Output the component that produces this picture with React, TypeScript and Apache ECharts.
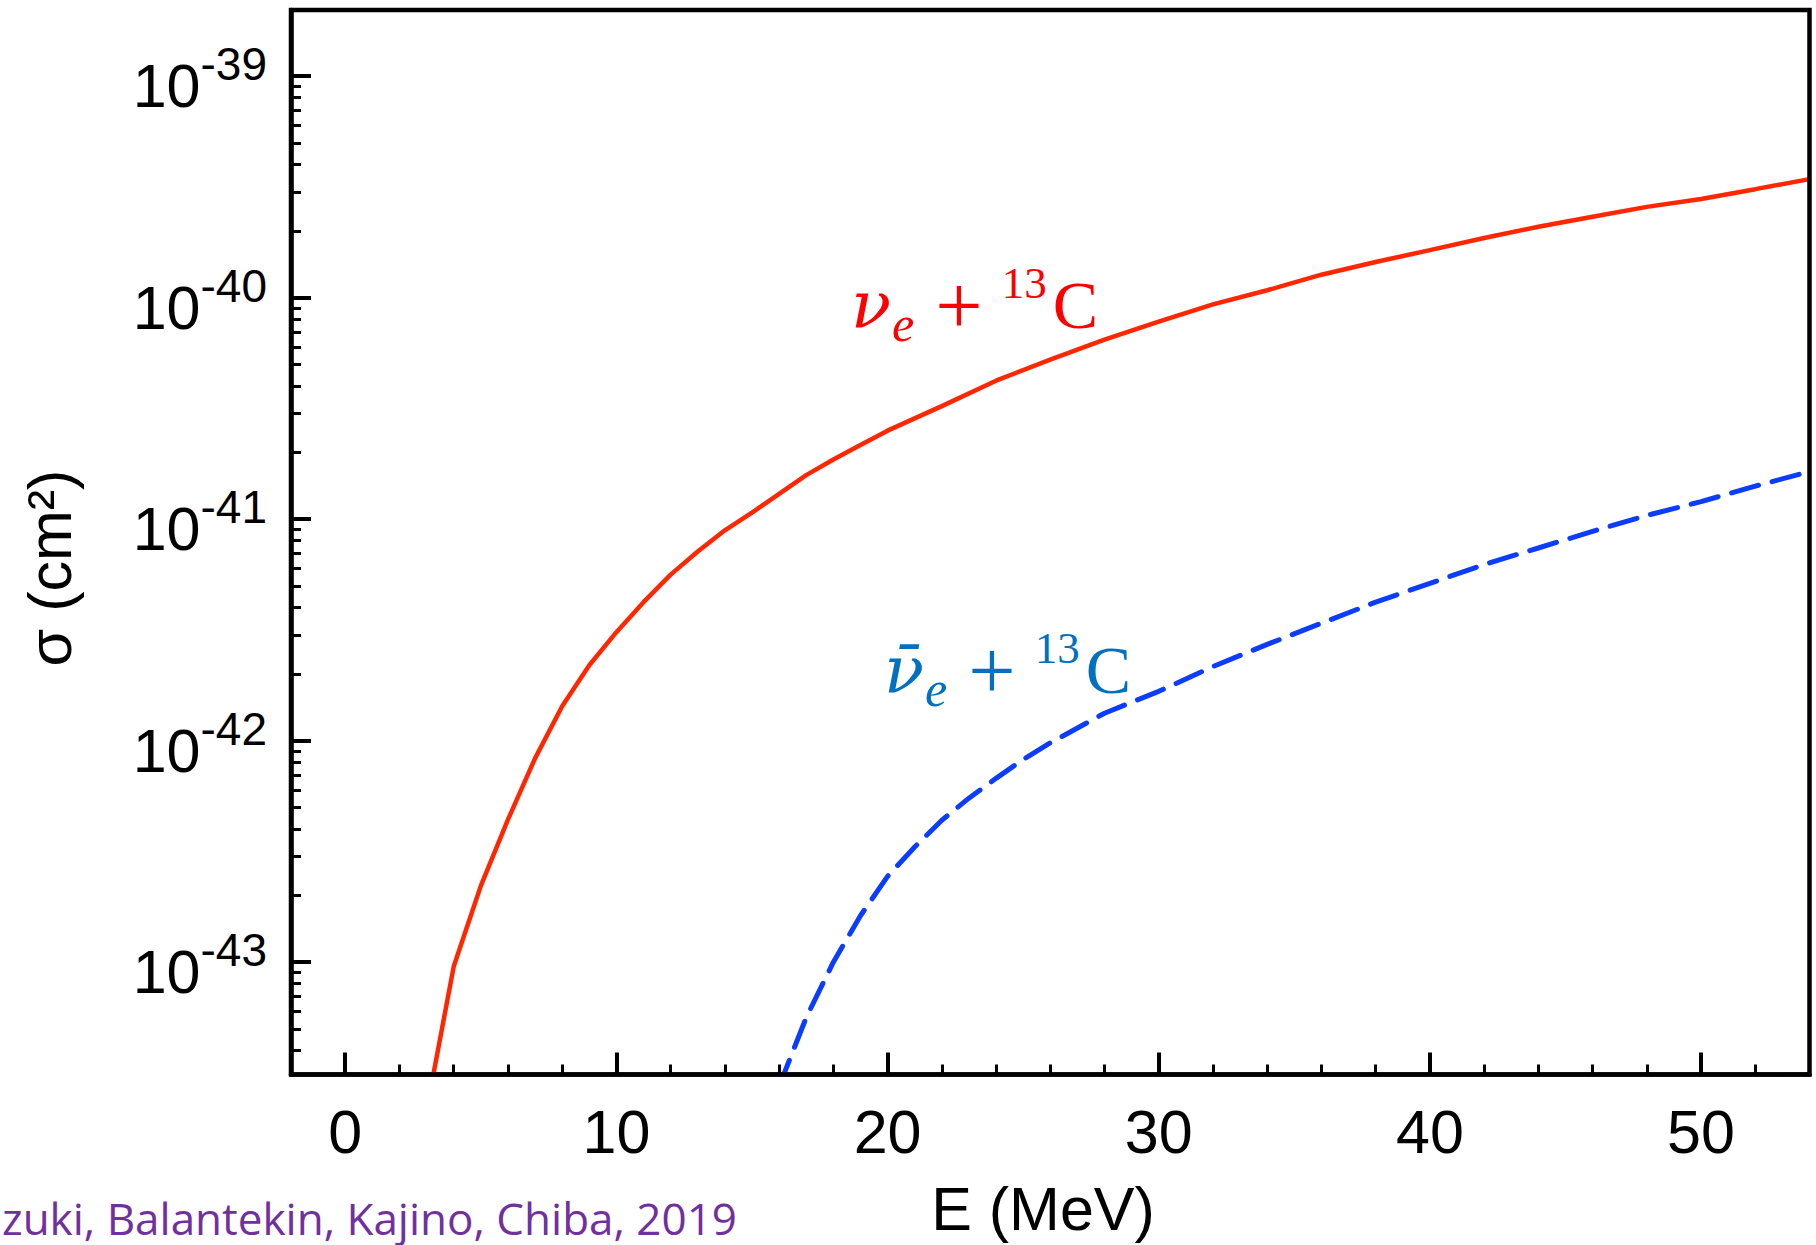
import React, { useEffect, useRef } from "react";
import * as echarts from "echarts";

// ---- data (σ in cm², E in MeV) ----
const energyNuE = [3, 4, 5, 6, 7, 8, 9, 10, 11, 12, 13, 14, 15, 16, 17, 18, 19, 20, 22, 24, 26, 28, 30, 32, 34, 36, 38, 40, 42, 44, 46, 48, 50, 52, 54];
const sigmaNuE = [
  2.14e-44, 9.55e-44, 2.21e-43, 4.4e-43, 8.32e-43, 1.43e-42, 2.19e-42, 3.09e-42, 4.22e-42, 5.62e-42,
  7.14e-42, 8.91e-42, 1.07e-41, 1.3e-41, 1.58e-41, 1.86e-41, 2.16e-41, 2.51e-41, 3.24e-41, 4.22e-41,
  5.25e-41, 6.46e-41, 7.8e-41, 9.33e-41, 1.08e-40, 1.27e-40, 1.45e-40, 1.64e-40, 1.86e-40, 2.09e-40,
  2.32e-40, 2.57e-40, 2.79e-40, 3.09e-40, 3.43e-40,
];
const energyNuBar = [16, 17, 18, 19, 20, 21, 22, 23, 24, 25, 26, 28, 30, 32, 34, 36, 38, 40, 42, 44, 46, 48, 50, 52, 54];
const sigmaNuBar = [
  2.75e-44, 5.62e-44, 1.0e-43, 1.62e-43, 2.44e-43, 3.31e-43, 4.37e-43, 5.5e-43, 6.76e-43, 8.22e-43,
  9.77e-43, 1.33e-42, 1.67e-42, 2.16e-42, 2.72e-42, 3.39e-42, 4.22e-42, 5.13e-42, 6.24e-42, 7.41e-42,
  8.81e-42, 1.04e-41, 1.2e-41, 1.41e-41, 1.64e-41,
];

const xMajorTicks = [0, 10, 20, 30, 40, 50];
const xMinorTicks = [2, 4, 6, 8, 12, 14, 16, 18, 22, 24, 26, 28, 32, 34, 36, 38, 42, 44, 46, 48, 52];
const yMajorTicks = [1e-43, 1e-42, 1e-41, 1e-40, 1e-39];
const yMinorMantissas = [2, 3, 4, 5, 6, 7, 8, 9];
const yMinorDecades = [1e-44, 1e-43, 1e-42, 1e-41, 1e-40];

const X_MIN = -2;
const X_MAX = 54;
const Y_MIN = 3.11e-44;
const Y_MAX = 1.99e-39;
const SIGMA_UNIT = 1e-42; // axis works in units of 1e-42 cm² to keep precision

const TICK_FONT = "'Liberation Sans', Arial, Helvetica, sans-serif";
const MATH_FONT = "'Liberation Serif', 'DejaVu Serif', serif";
const GREEK_FONT = "'DejaVu Serif', 'Liberation Serif', serif";

const toUnit = (v: number) => v / SIGMA_UNIT;

function labelRich(color: string) {
  return {
    nu: { fontSize: 66, fontStyle: "italic", fontFamily: GREEK_FONT, fill: color },
    sub: { fontSize: 50, fontStyle: "italic", fontFamily: MATH_FONT, fill: color, padding: [38, 0, 0, 1] },
    op: { fontSize: 84, fontFamily: MATH_FONT, fill: color, padding: [0, 19, 0, 21] },
    sup: { fontSize: 45, fontFamily: MATH_FONT, fill: color, padding: [0, 6, 44, 0] },
    c: { fontSize: 68, fontFamily: MATH_FONT, fill: color },
  };
}

export default function App() {
  const ref = useRef<HTMLDivElement>(null);

  useEffect(() => {
    document.body.style.margin = "0";
    if (!ref.current) return;
    const chart = echarts.init(ref.current, null, { renderer: "svg" });

    const yMinor: number[] = [];
    yMinorDecades.forEach((d) => yMinorMantissas.forEach((m) => yMinor.push(toUnit(m * d))));

    const gridBox = { left: 291, right: 6.5, top: 10, bottom: 170.5 };

    const option: any = {
      animation: false,
      backgroundColor: "#ffffff",
      grid: [
        { ...gridBox, show: true, borderColor: "#000", borderWidth: 4.5, backgroundColor: "transparent", z: 4 },
        { ...gridBox, show: false },
      ],
      xAxis: [
        {
          type: "value",
          gridIndex: 0,
          min: X_MIN,
          max: X_MAX,
          axisLine: { show: true, onZero: false, lineStyle: { color: "#000", width: 4.5 } },
          axisTick: { show: true, inside: true, length: 22, lineStyle: { color: "#000", width: 4 }, customValues: xMajorTicks },
          axisLabel: { show: true, customValues: xMajorTicks, margin: 27, fontSize: 61, color: "#000", fontFamily: TICK_FONT },
          splitLine: { show: false },
        },
        {
          type: "value",
          gridIndex: 1,
          min: X_MIN,
          max: X_MAX,
          axisLine: { show: false, onZero: false },
          axisTick: { show: true, inside: true, length: 10, lineStyle: { color: "#000", width: 3 }, customValues: xMinorTicks },
          axisLabel: { show: false },
          splitLine: { show: false },
        },
      ],
      yAxis: [
        {
          type: "log",
          logBase: 10,
          gridIndex: 0,
          min: toUnit(Y_MIN),
          max: toUnit(Y_MAX),
          axisLine: { show: true, onZero: false, lineStyle: { color: "#000", width: 4.5 } },
          axisTick: { show: true, inside: true, length: 20, lineStyle: { color: "#000", width: 4 }, customValues: yMajorTicks.map(toUnit) },
          axisLabel: {
            show: true,
            customValues: yMajorTicks.map(toUnit),
            margin: 24,
            color: "#000",
            fontFamily: TICK_FONT,
            formatter: (v: number) => {
              const exp = Math.round(Math.log10(v)) + Math.round(Math.log10(SIGMA_UNIT));
              return `{b|10}{s|${exp}}`;
            },
            rich: {
              b: { fontSize: 61, fontFamily: TICK_FONT, color: "#000", padding: [20, 0, 0, 0] },
              s: { fontSize: 46, fontFamily: TICK_FONT, color: "#000", padding: [0, 0, 24, 0] },
            },
          },
          splitLine: { show: false },
        },
        {
          type: "log",
          logBase: 10,
          gridIndex: 1,
          min: toUnit(Y_MIN),
          max: toUnit(Y_MAX),
          axisLine: { show: false, onZero: false },
          axisTick: { show: true, inside: true, length: 10, lineStyle: { color: "#000", width: 3 }, customValues: yMinor },
          axisLabel: { show: false },
          splitLine: { show: false },
        },
      ],
      series: [
        {
          name: "νe + 13C",
          type: "line",
          xAxisIndex: 0,
          yAxisIndex: 0,
          data: energyNuE.map((e, i) => [e, toUnit(sigmaNuE[i])]),
          showSymbol: false,
          symbol: "none",
          clip: true,
          lineStyle: { color: "#ff2600", width: 4.5 },
          z: 3,
        },
        {
          name: "anti-νe + 13C",
          type: "line",
          xAxisIndex: 0,
          yAxisIndex: 0,
          data: energyNuBar.map((e, i) => [e, toUnit(sigmaNuBar[i])]),
          showSymbol: false,
          symbol: "none",
          clip: true,
          lineStyle: { color: "#0b3cff", width: 5, type: [28, 14], cap: "round" },
          z: 3,
        },
      ],
      graphic: [
        {
          type: "text",
          x: 1043,
          y: 1209,
          style: { text: "E (MeV)", fontSize: 61, fontFamily: TICK_FONT, fill: "#000", align: "center", verticalAlign: "middle" },
        },
        {
          type: "text",
          x: 50,
          y: 568,
          rotation: Math.PI / 2,
          style: { text: "σ (cm²)", fontSize: 61, fontFamily: TICK_FONT, fill: "#000", align: "center", verticalAlign: "middle" },
        },
        {
          type: "text",
          x: 2,
          y: 1218,
          style: { text: "zuki, Balantekin, Kajino, Chiba, 2019", fontSize: 44, lineHeight: 44, fontFamily: "'Open Sans', Lato, sans-serif", fill: "#7030a0", align: "left", verticalAlign: "middle" },
        },
        {
          type: "text",
          x: 851,
          y: 305,
          style: {
            text: "{nu|ν}{sub|e}{op|+}{sup|13}{c|C}",
            fill: "#ff0000",
            align: "left",
            verticalAlign: "middle",
            fontFamily: MATH_FONT,
            fontSize: 70,
            rich: labelRich("#ff0000"),
          },
        },
        {
          type: "text",
          x: 884,
          y: 670,
          style: {
            text: "{nu|ν̄}{sub|e}{op|+}{sup|13}{c|C}",
            fill: "#0070c0",
            align: "left",
            verticalAlign: "middle",
            fontFamily: MATH_FONT,
            fontSize: 70,
            rich: labelRich("#0070c0"),
          },
        },
      ],
    };

    chart.setOption(option);
    return () => chart.dispose();
  }, []);

  return <div ref={ref} style={{ width: 1816, height: 1245 }} />;
}
